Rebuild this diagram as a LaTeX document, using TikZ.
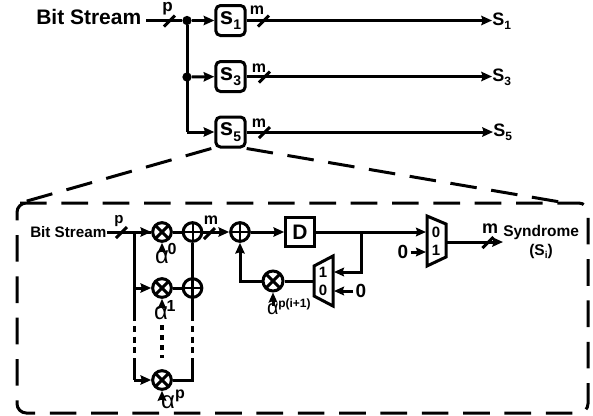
\documentclass[tikz,border=0pt]{standalone}
\usepackage{fontspec}
\setmainfont{Liberation Sans}
\usetikzlibrary{arrows.meta,calc}
\newcommand{\fpx}[1]{\fontsize{\dimexpr #1pt*3/4\relax}{\dimexpr #1pt*9/10\relax}\selectfont}
\newcommand{\subt}[2]{\raisebox{-0.22em}{\fpx{#1}#2}}
\tikzset{
  wire/.style={line width=2.25pt,-{Stealth[length=8pt,width=7pt,inset=1pt]}},
  plain/.style={line width=2.25pt},
  thin wire/.style={line width=2.25pt,-{Stealth[length=7.5pt,width=6.5pt,inset=1pt]}},
  dashbox/.style={line width=2.25pt,dash pattern=on 20pt off 11pt},
  blockbox/.style={draw,line width=2.25pt,rounded corners=3.5pt,minimum width=22pt,minimum height=22.5pt,inner sep=0pt,font=\bfseries\fpx{24}},
  delaybox/.style={draw,line width=2.25pt,minimum width=21.5pt,minimum height=21.5pt,inner sep=0pt,font=\bfseries\fpx{21}},
  mulnode/.style={circle,draw,line width=2.25pt,minimum size=14pt,inner sep=0pt,path picture={
    \draw[line width=2.25pt] (path picture bounding box.north west)--(path picture bounding box.south east)
      (path picture bounding box.north east)--(path picture bounding box.south west);}},
  addnode/.style={circle,draw,line width=2.25pt,minimum size=14pt,inner sep=0pt,path picture={
    \draw[line width=1.5pt] (path picture bounding box.north)--(path picture bounding box.south)
      (path picture bounding box.east)--(path picture bounding box.west);}},
  txt/.style={inner sep=0pt,font=\bfseries\fpx{#1}},
  txt/.default=14,
  rtxt/.style={inner sep=0pt,font=\fpx{#1}},
  dotj/.style={circle,fill,minimum size=7pt,inner sep=0pt},
  muxshape/.style={draw,line width=2.25pt,line join=miter,fill=white},
}
\begin{document}
\begin{tikzpicture}[x=0.75pt,y=-0.75pt]
\useasboundingbox (0,0) rectangle (593,415);
% ---------- top part
\node[txt=21,anchor=west] (bs) at (36,17) {Bit Stream};
\coordinate (bsout) at (146,20.5);
\node[dotj] (j1) at (187,20.5) {};
\node[dotj] (j3) at (187,77) {};
\coordinate (jc) at (187,132);
\node[blockbox] (s1) at (230.5,20.5) {s\subt{14}{1}};
\node[blockbox] (s3) at (230.5,76.5) {s\subt{14}{3}};
\node[blockbox] (s5) at (230.5,132) {s\subt{14}{5}};
\node[txt=18,anchor=west] (o1) at (492,21) {S\subt{12}{1}};
\node[txt=18,anchor=west] (o3) at (492,77) {S\subt{12}{3}};
\node[txt=18,anchor=west] (o5) at (493,132.5) {S\subt{12}{5}};
\draw[plain] (bsout) -- (j1);
\draw[wire] (j1) -- (s1);
\draw[wire] (j3) -- (s3);
\draw[plain] (j1) -- (jc);
\draw[wire] (jc) -- (s5);
\draw[wire] (s1) -- (o1.west |- s1);
\draw[wire] (s3) -- (o3.west |- s3);
\draw[wire] (s5) -- (o5.west |- s5);
\foreach \n/\x/\y in {a/170/20.5,b/264/20.5,c/265/76.5,d/265/132}{
  \coordinate (sl\n) at (\x,\y);
  \draw[plain] ($(sl\n)+(-6,6)$) -- ($(sl\n)+(5,-5)$);
}
\node[txt=17] (lp) at (167.5,9) {p};
\node[txt=16] (lm1) at (257,10) {m};
\node[txt=16] (lm3) at (259,68) {m};
\node[txt=16] (lm5) at (259,123) {m};
% ---------- dashed frame
\draw[dashbox,rounded corners=7pt] (20,203) -- (588,203) -- (588,413) -- (17,413) -- (17,203) -- (20,203);
\draw[dashbox] (s5.south west) ++(-3,0) -- (20,203);
\draw[dashbox] (s5.south east) -- (566,203);
% ---------- lower part
\node[txt=15.2,anchor=west] (bs2) at (30,232) {Bit Stream};
\node[mulnode] (m0) at (162,232) {};
\node[addnode] (a0) at (192.5,232) {};
\node[mulnode] (m1) at (162,288) {};
\node[addnode] (a1) at (192.5,288) {};
\node[mulnode] (m2) at (162,380) {};
\node[addnode] (a2) at (240,232) {};
\node[delaybox] (dl) at (300,232) {D};
\node[mulnode,minimum size=15pt] (m3) at (273,281) {};
\coordinate (t0) at (134,232);
\coordinate (t1) at (134,288);
\coordinate (t2) at (134,321);
\coordinate (t3) at (134,358);
\coordinate (t4) at (134,380);
\draw[plain] (bs2.east) -- (m0);
\draw[wire] (t0) -- (m0);
\draw[plain] (t0) -- (t2);
\draw[wire] (t1) -- (m1);
\draw[line width=2.25pt,dash pattern=on 4.5pt off 3.5pt] (t2)++(0,5) -- (t3);
\draw[plain,line join=miter] (t3) -- (t4);
\draw[wire] (t4) -- (m2);
\draw[plain] (m0) -- (a0);
\draw[plain] (m1) -- (a1);
\coordinate (v0) at (192.5,321);
\coordinate (v1) at (192.5,358);
\coordinate (v2) at (192.5,380);
\draw[plain] (a0) -- (v0);
\draw[line width=2.25pt,dash pattern=on 4.5pt off 3.5pt] (v0)++(0,5) -- (v1);
\draw[plain,line join=miter] (m2) -- (v2) -- (v1);
\draw[wire] (a0) -- (a2);
\draw[wire] (a2) -- (dl);
% muxes
\coordinate (mxa) at (427,216); \coordinate (mxb) at (446,224);
\coordinate (mxc) at (446,257); \coordinate (mxd) at (427,266);
\draw[muxshape] (mxa) -- (mxb) -- (mxc) -- (mxd) -- cycle;
\node[txt=15] (mx0) at (436,232) {0};
\node[txt=15] (mx1) at (436,250) {1};
\coordinate (mxin0) at (426,232);
\coordinate (mxin1) at (426,252);
\coordinate (mxout) at (446,242);
\coordinate (mya) at (333,256); \coordinate (myb) at (333,306);
\coordinate (myc) at (314,296); \coordinate (myd) at (314,266);
\draw[muxshape] (mya) -- (myb) -- (myc) -- (myd) -- cycle;
\node[txt=15] (my1) at (323,272) {1};
\node[txt=15] (my0) at (323,290) {0};
\coordinate (myin1) at (334,272);
\coordinate (myin0) at (334,291);
\coordinate (myout) at (314,281);
\coordinate (br) at (361,232);
\draw[thin wire] (dl) -- (mxin0);
\draw[thin wire,rounded corners=0pt] (br) |- (myin1);
\node[txt=19] (z1) at (403,252) {0};
\draw[thin wire] (z1.east) ++(2,0) -- (mxin1);
\node[txt=19] (z2) at (361,291) {0};
\draw[thin wire] (z2.west) ++(-2,0) -- (myin0);
\draw[plain] (myout) -- (m3);
\draw[wire,rounded corners=0pt] (m3) -| (a2);
\node[txt=15.5,anchor=west] (syn) at (503,232) {Syndrome};
\node[txt=15.5] (si) at (541,251.5) {(S\subt{10}{i})};
\draw[wire] (mxout) -- (syn.west |- mxout);
\foreach \n/\x/\y in {e/122/232,f/210/233,g/488.5/242}{
  \coordinate (sl\n) at (\x,\y);
  \draw[plain] ($(sl\n)+(-6,6)$) -- ($(sl\n)+(5,-5)$);
}
\node[txt=15] (lp2) at (119,221) {p};
\node[txt=16] (lm6) at (211,220) {m};
\node[txt=18] (lm7) at (490,229) {m};
% alpha inputs
\node[rtxt=24] (al0) at (162,257) {α};
\node[txt=16] (al0s) at (172,249) {0};
\node[rtxt=24] (al1) at (161,313) {α};
\node[txt=16] (al1s) at (171,305.5) {1};
\node[rtxt=24] (alp) at (168,402) {α};
\node[txt=16] (alps) at (180,396) {p};
\node[rtxt=20] (al3) at (273,309) {α};
\node[txt=12,anchor=west] (al3s) at (278,304) {p(i+1)};
\coordinate (a0pt) at (162,251);
\coordinate (a1pt) at (162,307);
\coordinate (alpt) at (162,400);
\coordinate (a3pt) at (273,306);
\draw[thin wire] (a0pt) -- (m0);
\draw[thin wire] (a1pt) -- (m1);
\draw[thin wire] (alpt) -- (m2);
\draw[thin wire] (a3pt) -- (m3);
\draw[line width=3pt,dash pattern=on 3.5pt off 4pt] (162,325) -- (162,358);
\end{tikzpicture}
\end{document}
